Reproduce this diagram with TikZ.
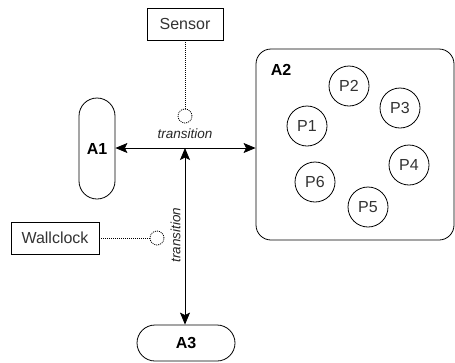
\documentclass[tikz,border=0pt]{standalone}
\usepackage{fontspec}
\setmainfont{Liberation Sans}
\usetikzlibrary{calc, positioning}
\usetikzlibrary{arrows.meta}

\tikzset{
    txt/.style={text=black!80, font=\fontsize{16}{18}\selectfont},
    actor/.style={draw, line width=0.8pt, font=\fontsize{16}{18}\selectfont\bfseries},
    sourcebox/.style={draw, line width=0.8pt, txt, inner sep=0pt},
    place/.style={draw, circle, line width=0.8pt, minimum size=40pt, inner sep=0pt, txt},
    dots/.style={line width=0.8pt, dash pattern=on 1pt off 1pt},
    port/.style={draw, circle, dots, minimum size=14pt, inner sep=0pt},
    trans/.style={font=\fontsize{13.5}{15}\selectfont\itshape, text=black!85},
    link/.style={line width=0.8pt, {Stealth[length=12pt,width=10pt,inset=2.5pt]}-{Stealth[length=12pt,width=10pt,inset=2.5pt]}}
}

\begin{document}
\begin{tikzpicture}[x=1pt, y=-1pt]
        \useasboundingbox (0,0) rectangle (455,362);
        \node[actor, minimum width=36pt, minimum height=101pt, rounded corners=18pt] (nA1) at (97,148.5) {A1};
        \node[actor, minimum width=98pt, minimum height=36pt, rounded corners=18pt] (nA3) at (186,343) {A3};
        \node[draw, line width=0.8pt, rounded corners=15pt, minimum width=198pt, minimum height=191pt] (nA2) at (355,144.5) {};
        \node[font=\fontsize{16}{18}\selectfont\bfseries] (lA2) at (281,70) {A2};
        \node[sourcebox, minimum width=76pt, minimum height=32pt] (nSensor) at (185,24) {Sensor};
        \node[sourcebox, minimum width=88pt, minimum height=32pt] (nClock) at (55,238) {Wallclock};
        \node[port] (pSensor) at (185,116) {};
        \node[port] (pClock) at (157,238) {};
        \coordinate (cJoin) at (185,148);

        \foreach \v/\x/\y/\t in
        {pP1/307/126/P1,
            pP2/349/86/P2,
            pP3/400/108/P3,
            pP4/409/165/P4,
            pP5/368/207/P5,
            pP6/315/182/P6
        }
        {
            \node[place] (\v) at (\x,\y) {\t};
        };

        \draw[link] (nA1.east |- cJoin) -- (nA2.west |- cJoin);
        \draw[link] (cJoin) -- (cJoin |- nA3.north);
        \draw[dots] (nSensor.south) -- (pSensor.north);
        \draw[dots] (nClock.east) -- (pClock.west);
        \node[trans] (tH) at (185,134) {transition};
        \node[trans, rotate=90] (tV) at (175.5,235) {transition};
        \end{tikzpicture}
\end{document}
